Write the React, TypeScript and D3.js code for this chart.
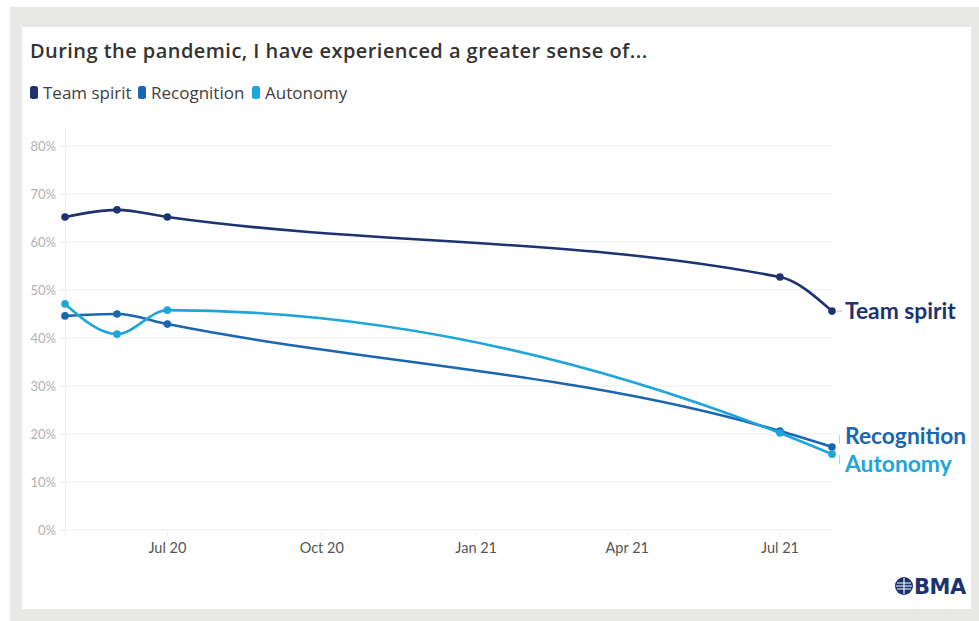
import React from "react";
import * as d3 from "d3";

const dates = ["2020-05-01", "2020-06-01", "2020-07-01", "2021-07-01", "2021-08-01"];
const teamSpirit = [65.2, 66.7, 65.2, 52.7, 45.6];
const recognition = [44.6, 45.0, 42.9, 20.6, 17.3];
const autonomy = [47.1, 40.8, 45.8, 20.2, 15.8];
const yTicks = [0, 10, 20, 30, 40, 50, 60, 70, 80];
const xTickDates = ["2020-07-01", "2020-10-01", "2021-01-01", "2021-04-01", "2021-07-01"];
const seriesNames = ["Team spirit", "Recognition", "Autonomy"];
const seriesColors = ["#1d3370", "#1a66b0", "#1ea5da"];

const W = 979;
const H = 621;
const FONT = "Lato, 'Open Sans', sans-serif";
const FONT2 = "'Open Sans', sans-serif";

export default function App() {
  const parse = d3.utcParse("%Y-%m-%d");
  const x = d3.scaleUtc()
    .domain([parse(dates[0])!, parse(dates[dates.length - 1])!])
    .range([65, 832]);
  const y = d3.scaleLinear().domain([0, 80]).range([530, 146]);
  const fmt = d3.utcFormat("%b %y");
  const series = [teamSpirit, recognition, autonomy];
  const line = d3.line<[Date, number]>()
    .x((d) => x(d[0]))
    .y((d) => y(d[1]))
    .curve(d3.curveMonotoneX);

  const lastX = x(parse(dates[dates.length - 1])!);
  const legendX = [30, 138, 252];

  return (
    <svg width={W} height={H} style={{ position: "absolute", left: 0, top: 0 }}>
      <rect x={0} y={0} width={W} height={H} fill="#ffffff" />
      <rect x={10} y={7} width={W - 10} height={H - 7} fill="#e8e8e7" />
      <rect x={22} y={27} width={949} height={582} fill="#ffffff" />
      <text x={30} y={58} fontFamily={FONT2} fontWeight={600} fontSize={20} letterSpacing={0.45} fill="#333333">
        During the pandemic, I have experienced a greater sense of...
      </text>
      {/* legend */}
      {seriesNames.map((n, i) => (
        <g key={n}>
          <rect x={legendX[i]} y={86} width={8} height={13} rx={2.5} fill={seriesColors[i]} />
          <text x={legendX[i] + 13} y={99} fontFamily={FONT2} fontSize={17} fill="#404040">{n}</text>
        </g>
      ))}
      {/* grid */}
      {yTicks.map((t) => (
        <g key={t}>
          <line x1={60} x2={832} y1={y(t)} y2={y(t)} stroke="#ececec" strokeWidth={1} />
          <text x={56} y={y(t) + 4.5} textAnchor="end" fontFamily={FONT} fontSize={13} fill="#b0b0b0">
            {t}%
          </text>
        </g>
      ))}
      <line x1={65.5} x2={65.5} y1={128} y2={535} stroke="#f0f0f0" strokeWidth={1} />
      {xTickDates.map((d) => {
        const xv = x(parse(d)!);
        return (
          <g key={d}>
            <line x1={xv} x2={xv} y1={533} y2={537} stroke="#eeeeee" />
            <text x={xv} y={553} textAnchor="middle" fontFamily={FONT} fontSize={14.5} fill="#555555">
              {fmt(parse(d)!)}
            </text>
          </g>
        );
      })}
      {/* lines */}
      {series.map((s, i) => {
        const pts: [Date, number][] = s.map((v, j) => [parse(dates[j])!, v]);
        return (
          <g key={i}>
            <path d={line(pts) || ""} fill="none" stroke={seriesColors[i]} strokeWidth={2.6} />
            {pts.map((p, j) => (
              <circle key={j} cx={x(p[0])} cy={y(p[1])} r={3.8} fill={seriesColors[i]} />
            ))}
          </g>
        );
      })}
      {/* end labels */}
      <line x1={lastX + 5} x2={lastX + 10} y1={y(teamSpirit[4])} y2={y(teamSpirit[4])} stroke="#bbbbbb" />
      <line x1={839.5} x2={839.5} y1={435} y2={444} stroke="#cccccc" />
      <line x1={839.5} x2={839.5} y1={455} y2={464} stroke="#cccccc" />
      <text x={845} y={y(teamSpirit[4]) + 7.5} fontFamily={FONT} fontWeight={700} fontSize={22.8} fill={seriesColors[0]}>
        Team spirit
      </text>
      <text x={845} y={444} fontFamily={FONT} fontWeight={700} fontSize={22.8} fill={seriesColors[1]}>
        Recognition
      </text>
      <text x={845} y={472} fontFamily={FONT} fontWeight={700} fontSize={22.8} fill={seriesColors[2]}>
        Autonomy
      </text>
      {/* logo */}
      <g>
        <circle cx={904} cy={586} r={9} fill="#1d3370" />
        <path d="M897,583 h14 M896,586 h16 M897,589 h14 M904,578 v16" stroke="#ffffff" strokeWidth={1.1} fill="none" />
        <text x={914} y={594} fontFamily="'DejaVu Sans', sans-serif" fontWeight={700} fontSize={21} fill="#1d3370" letterSpacing={-0.5}>
          BMA
        </text>
      </g>
    </svg>
  );
}
